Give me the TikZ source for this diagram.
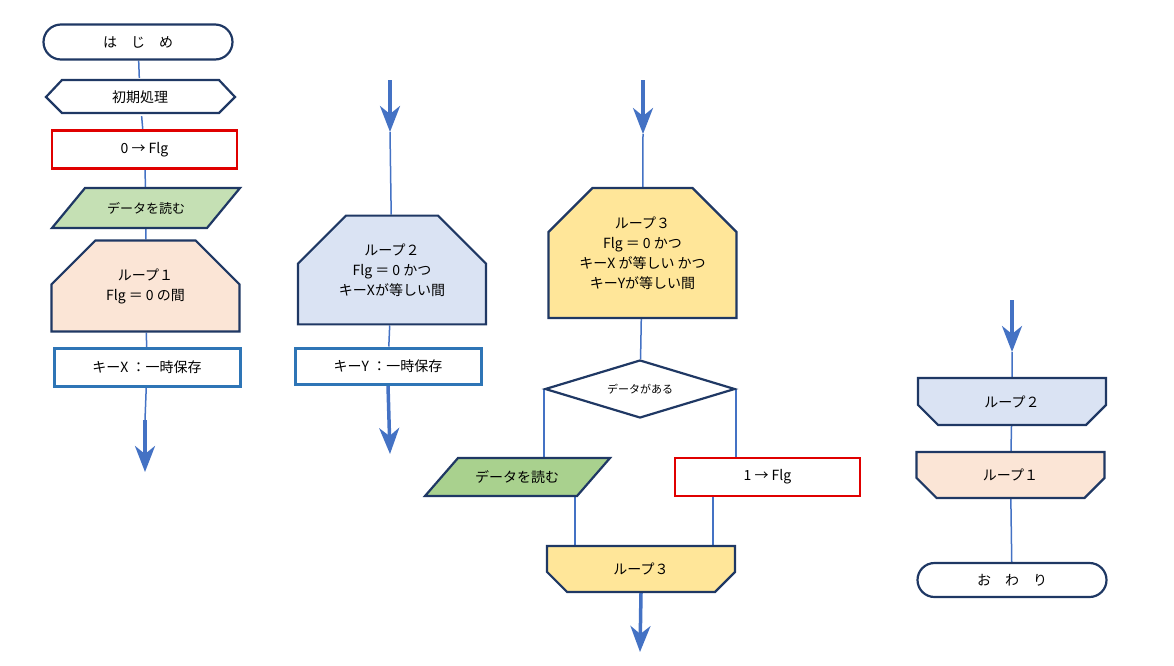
\documentclass[tikz,border=0pt]{standalone}
\usepackage{fontspec}
\setmainfont{Noto Sans CJK JP}
\usetikzlibrary{shapes.misc,shapes.geometric,shapes.symbols,arrows.meta,backgrounds}
\definecolor{navy}{HTML}{1F3864}
\definecolor{lnblue}{HTML}{4472C4}
\definecolor{bxblue}{HTML}{2E75B6}
\definecolor{red1}{HTML}{E00000}
\definecolor{gr1}{HTML}{C5E0B4}
\definecolor{gr2}{HTML}{A9D18E}
\definecolor{pk}{HTML}{FBE5D6}
\definecolor{lb}{HTML}{DAE3F3}
\definecolor{yl}{HTML}{FFE699}
\begin{document}
\begin{tikzpicture}[x=1pt,y=-1pt,font=\fontsize{14}{20}\selectfont,
 base/.style={draw=navy,line width=2.2pt,align=center,inner sep=0pt},
 term/.style={base,rounded rectangle,fill=white,minimum width=189pt,minimum height=35pt},
 redbox/.style={base,draw=red1,fill=white,rectangle,minimum width=185pt,minimum height=38pt},
 bluebox/.style={base,draw=bxblue,line width=3pt,fill=white,rectangle,minimum width=186pt,minimum height=38pt},
 loopb/.style={base,chamfered rectangle,chamfered rectangle corners={north west,north east},chamfered rectangle xsep=16pt,chamfered rectangle ysep=28pt,minimum width=188pt},
 loope/.style={base,chamfered rectangle,chamfered rectangle corners={south west,south east},chamfered rectangle xsep=14pt,chamfered rectangle ysep=14pt,minimum width=188pt,minimum height=46pt},
 hid/.style={inner sep=0pt,minimum width=150pt,minimum height=38pt},
 ln/.style={draw=lnblue,line width=1.5pt},
 bigarr/.style={draw=lnblue,line width=3.5pt,-{Stealth[length=26pt,width=20pt,inset=8pt]}}
]
\useasboundingbox (0,0) rectangle (1174,665);
% column 1
\node[term] (start) at (138,42) {は　じ　め};
\draw[navy,line width=2.2pt,fill=white] (46,97)--(62,80)--(219,80)--(235,97)--(219,113)--(62,113)--cycle;
\node[hid] (hex) at (140,97) {初期処理};
\node[redbox] (flg0) at (144.5,149.5) {0 → Flg};
\draw[navy,line width=2.2pt,fill=gr1] (52,228)--(85,188)--(240,188)--(207,228)--cycle;
\node[hid,font=\fontsize{13}{16}\selectfont] (read1) at (146,208) {データを読む};
\node[loopb,fill=pk,minimum height=64pt] (loop1) at (145.5,286) {ループ１\\Flg ＝ 0 の間};
\node[bluebox] (keyx) at (147,367.5) {キーX ：一時保存};
\coordinate (c1a) at (145,420);
\coordinate (c1b) at (145,472);
% column 2
\coordinate (c2t) at (390,80);
\coordinate (c2m) at (390,132);
\node[loopb,fill=lb,minimum height=96pt,chamfered rectangle xsep=20pt] (loop2) at (392,270) {ループ２\\Flg ＝ 0 かつ\\キーXが等しい間};
\node[bluebox,minimum height=36pt] (keyy) at (388,366) {キーY ：一時保存};
\coordinate (c2a) at (390,400);
\coordinate (c2b) at (390,454);
% column 3
\coordinate (c3t) at (643,80);
\coordinate (c3m) at (643,134);
\node[loopb,fill=yl,minimum height=130pt] (loop3) at (642.5,253) {ループ３\\Flg ＝ 0 かつ\\キーX が等しい かつ\\キーYが等しい間};
\node[base,diamond,fill=white,minimum width=190pt,minimum height=58pt,aspect=3.3,font=\fontsize{11}{13}\selectfont] (dia) at (640,389) {データがある};
\draw[navy,line width=2.2pt,fill=gr2] (425,496)--(458,458)--(610,458)--(577,496)--cycle;
\node[hid] (read2) at (517,477) {データを読む};
\node[redbox] (flg1) at (767.5,477) {1 → Flg};
\node[loope,fill=yl] (loop3e) at (641,569) {ループ３};
\coordinate (c3a) at (640,598);
\coordinate (c3b) at (640,652);
% column 4
\coordinate (c4t) at (1012,300);
\coordinate (c4m) at (1012,352);
\node[loope,fill=lb,minimum height=47pt] (loop2e) at (1012,401.5) {ループ２};
\node[loope,fill=pk] (loop1e) at (1010.5,475) {ループ１};
\node[term,minimum height=34pt] (end) at (1012,580) {お　わ　り};
\begin{scope}[on background layer]
 \draw[ln] (start)--(hex)--(flg0)--(read1)--(loop1)--(keyx);
 \draw[ln] (keyx)--(c1a);
 \draw[bigarr] (c1a)--(c1b);
 \draw[bigarr] (c2t)--(c2m);
 \draw[ln] (c2m)--(loop2)--(keyy);
 \draw[bigarr] (keyy.south)--(c2b);
 \draw[bigarr] (c3t)--(c3m);
 \draw[ln] (c3m)--(loop3)--(dia);
 \draw[ln] (dia.west)--(read2.north -| dia.west);
 \draw[ln] (dia.east)--(flg1.north -| dia.east);
 \draw[ln] (575,496)--(loop3e.north -| 575,0);
 \draw[ln] (flg1.south -| 713,0)--(loop3e.north -| 713,0);
 \draw[bigarr] (loop3e.south)--(c3b);
 \draw[bigarr] (c4t)--(c4m);
 \draw[ln] (c4m)--(loop2e)--(loop1e)--(end);
\end{scope}
\end{tikzpicture}
\end{document}
